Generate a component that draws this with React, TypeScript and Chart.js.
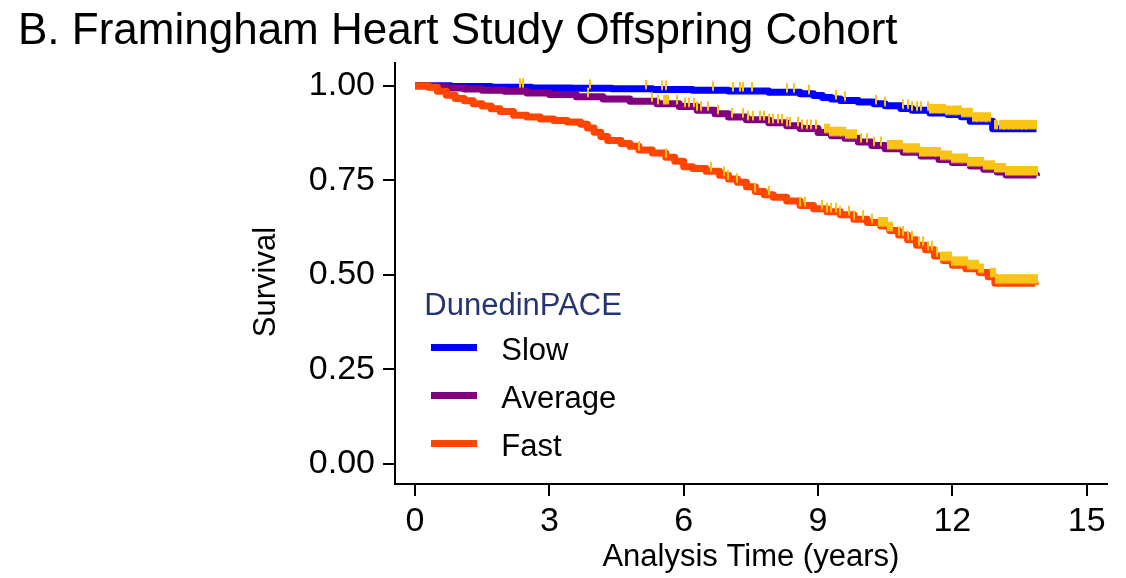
import React, { useEffect, useRef } from 'react';
import { Chart, registerables } from 'chart.js';

Chart.register(...registerables);

const FONT = "'Liberation Sans', Arial, Helvetica, sans-serif";

// ---- texts ----
const chartTitle = 'B. Framingham Heart Study Offspring Cohort';
const xAxisTitle = 'Analysis Time (years)';
const yAxisTitle = 'Survival';
const legendTitle = 'DunedinPACE';
const seriesNames = ['Slow', 'Average', 'Fast'];

// ---- ticks ----
const xTicks = [0, 3, 6, 9, 12, 15];
const yTicks = [0, 0.25, 0.5, 0.75, 1];

// ---- Kaplan-Meier step data (time in years, survival after the step) ----
const slowTime = [0, 0.8, 1.7, 2.6, 3.5, 4.4, 5.3, 6.2, 7.0, 7.9, 8.6, 8.9, 9.1, 9.3, 9.5, 9.9, 10.25, 10.5, 10.85, 11.1, 11.5, 11.9, 12.2, 12.4, 12.9, 13.88];
const slowSurv = [1.0, 0.998, 0.996, 0.994, 0.993, 0.992, 0.99, 0.988, 0.986, 0.983, 0.979, 0.974, 0.969, 0.965, 0.961, 0.957, 0.952, 0.947, 0.94, 0.935, 0.928, 0.924, 0.918, 0.906, 0.886, 0.886];

const averageTime = [0, 0.3, 0.7, 1.1, 1.5, 2.0, 2.5, 3.0, 3.6, 4.2, 4.8, 5.4, 5.9, 6.3, 6.7, 7.0, 7.4, 7.9, 8.3, 8.6, 9.0, 9.3, 9.6, 9.9, 10.2, 10.5, 10.9, 11.3, 11.7, 12.0, 12.4, 12.7, 13.0, 13.2, 13.88];
const averageSurv = [1.0, 0.997, 0.994, 0.991, 0.988, 0.985, 0.981, 0.977, 0.971, 0.965, 0.959, 0.952, 0.945, 0.935, 0.926, 0.917, 0.91, 0.902, 0.894, 0.887, 0.876, 0.868, 0.861, 0.851, 0.842, 0.833, 0.824, 0.814, 0.805, 0.797, 0.788, 0.779, 0.772, 0.764, 0.762];

const fastTime = [0, 0.3, 0.5, 0.7, 0.9, 1.1, 1.3, 1.5, 1.7, 1.9, 2.2, 2.5, 2.8, 3.1, 3.4, 3.7, 3.85, 4.0, 4.15, 4.3, 4.6, 4.8, 5.0, 5.3, 5.6, 5.8, 6.0, 6.2, 6.5, 6.8, 7.0, 7.2, 7.4, 7.6, 7.8, 8.0, 8.3, 8.6, 8.9, 9.2, 9.5, 9.8, 10.1, 10.4, 10.6, 10.8, 11.0, 11.2, 11.4, 11.6, 11.8, 12.0, 12.3, 12.6, 12.8, 12.95, 13.85];
const fastSurv = [1.0, 0.996, 0.985, 0.975, 0.966, 0.96, 0.952, 0.946, 0.939, 0.932, 0.922, 0.917, 0.912, 0.908, 0.904, 0.898, 0.888, 0.877, 0.866, 0.855, 0.847, 0.84, 0.83, 0.822, 0.811, 0.8, 0.786, 0.781, 0.774, 0.763, 0.753, 0.745, 0.733, 0.72, 0.712, 0.705, 0.695, 0.683, 0.675, 0.667, 0.659, 0.647, 0.638, 0.629, 0.617, 0.605, 0.593, 0.578, 0.566, 0.55, 0.538, 0.525, 0.516, 0.506, 0.495, 0.478, 0.474];

// ---- censoring times (isolated marks and dense runs) ----
const slowCensor = [2.35, 2.42, 3.9, 5.15, 5.52, 5.6, 6.65, 7.1, 7.25, 7.33, 7.53, 8.3, 8.47, 8.8, 9.4, 9.6, 10.3, 10.5, 10.9, 11.0, 11.1, 11.2, 11.3, 11.45, 12.95, 13.0];
const slowCensorRun = [11.55, 11.67, 11.79, 11.91, 12.03, 12.15, 12.27, 12.39, 12.5, 12.6, 12.7, 12.8, 13.1, 13.2, 13.3, 13.4, 13.5, 13.6, 13.7, 13.82];

const averageCensor = [3.87, 5.3, 5.42, 5.55, 5.6, 5.65, 5.86, 6.02, 6.12, 6.22, 6.3, 6.38, 6.55, 6.77, 7.07, 7.33, 7.44, 7.55, 7.7, 7.8, 7.9, 8.0, 8.1, 8.2, 8.3, 8.37, 8.55, 8.65, 8.75, 8.85, 8.95, 9.95, 10.1, 10.25, 10.4];
const averageCensorRun = [9.2, 9.32, 9.44, 9.56, 9.68, 9.8, 10.6, 10.72, 10.84, 10.96, 11.08, 11.2, 11.32, 11.44, 11.56, 11.68, 11.8, 11.92, 12.04, 12.16, 12.28, 12.4, 12.52, 12.64, 12.76, 12.88, 13.0, 13.12, 13.24, 13.36, 13.48, 13.6, 13.72, 13.84];

const fastCensor = [5.0, 5.6, 6.6, 6.9, 7.0, 7.2, 7.6, 7.9, 8.6, 8.7, 9.1, 9.2, 9.3, 9.4, 9.5, 9.7, 9.8, 10.0, 10.2, 10.8, 10.9, 11.0, 11.1, 11.25, 11.35, 11.45, 11.55, 11.65];
const fastCensorRun = [10.4, 10.5, 10.6, 11.8, 11.92, 12.04, 12.16, 12.28, 12.4, 12.52, 12.64, 12.9, 13.02, 13.14, 13.26, 13.38, 13.5, 13.62, 13.74, 13.84];

// ---- styles ----
const seriesColors = ['#0000ff', '#800080', '#ff4500'];
const censorColor = '#f9c414';
const legendTitleColor = '#263470';

function survivalAt(times: number[], surv: number[], t: number): number {
  let v = surv[0];
  for (let i = 0; i < times.length; i++) {
    if (times[i] <= t) v = surv[i];
    else break;
  }
  return v;
}

export default function App() {
  const ref = useRef<HTMLCanvasElement>(null);

  useEffect(() => {
    const canvas = ref.current;
    if (!canvas) return;

    const makeTick = (w: number) => {
      const c = document.createElement('canvas');
      c.width = w;
      c.height = 20;
      const g = c.getContext('2d')!;
      g.fillStyle = censorColor;
      g.fillRect(0, 1, w, 9.5);
      return c;
    };
    const thinTick = makeTick(2);
    const wideTick = makeTick(6);

    const series = [
      { name: seriesNames[0], t: slowTime, s: slowSurv, c: slowCensor, run: slowCensorRun, color: seriesColors[0], order: 3 },
      { name: seriesNames[1], t: averageTime, s: averageSurv, c: averageCensor, run: averageCensorRun, color: seriesColors[1], order: 2 },
      { name: seriesNames[2], t: fastTime, s: fastSurv, c: fastCensor, run: fastCensorRun, color: seriesColors[2], order: 1 },
    ];

    const datasets: any[] = [];
    series.forEach((se) => {
      datasets.push({
        type: 'line',
        label: se.name,
        data: se.t.map((x, i) => ({ x, y: se.s[i] })),
        borderColor: se.color,
        backgroundColor: se.color,
        borderWidth: 7,
        borderJoinStyle: 'round',
        pointRadius: 0,
        stepped: 'before',
        fill: false,
        order: se.order,
      });
      datasets.push({
        type: 'line',
        label: se.name + ' censored',
        data: se.c.map((x) => ({ x, y: survivalAt(se.t, se.s, x) })),
        showLine: false,
        pointStyle: thinTick,
        pointRadius: 3,
        order: 0,
      });
      datasets.push({
        type: 'line',
        label: se.name + ' censored run',
        data: se.run.map((x) => ({ x, y: survivalAt(se.t, se.s, x) })),
        showLine: false,
        pointStyle: wideTick,
        pointRadius: 3,
        order: 0,
      });
    });

    const tickFont = { family: FONT, size: 34 };
    const titleFont = { family: FONT, size: 31 };

    const chart = new Chart(canvas, {
      type: 'line',
      data: { datasets },
      options: {
        responsive: false,
        animation: false,
        events: [],
        layout: { padding: { left: 18, right: 19.3, top: 0, bottom: 0 } },
        plugins: {
          legend: { display: false },
          tooltip: { enabled: false },
          title: {
            display: true,
            text: chartTitle,
            align: 'start',
            color: '#000',
            font: { family: FONT, size: 44, weight: 'normal' },
            padding: { top: 5.05, bottom: 5.15 },
          },
        },
        scales: {
          x: {
            type: 'linear',
            min: -0.447,
            max: 15.447,
            afterBuildTicks: (s: any) => {
              s.ticks = xTicks.map((v) => ({ value: v }));
            },
            afterFit: (s: any) => {
              s.height = 94;
            },
            ticks: {
              font: tickFont,
              color: '#000',
              padding: 5,
              autoSkip: false,
              maxRotation: 0,
              callback: (v: any) => String(v),
            },
            grid: { drawOnChartArea: false, drawTicks: true, tickLength: 12, color: '#000', lineWidth: 2 },
            border: { display: true, color: '#000', width: 2 },
            title: {
              display: true,
              text: xAxisTitle,
              color: '#000',
              font: titleFont,
              padding: { top: 0, bottom: 2.14 },
            },
          },
          y: {
            type: 'linear',
            min: -0.053,
            max: 1.06,
            afterBuildTicks: (s: any) => {
              s.ticks = yTicks.map((v) => ({ value: v }));
            },
            afterFit: (s: any) => {
              s.width = 377;
            },
            ticks: {
              font: tickFont,
              color: '#000',
              padding: 8,
              autoSkip: false,
              callback: (v: any) => Number(v).toFixed(2),
            },
            grid: { drawOnChartArea: false, drawTicks: true, tickLength: 12, color: '#000', lineWidth: 2 },
            border: { display: true, color: '#000', width: 2 },
            title: {
              display: true,
              text: yAxisTitle + '  ',
              color: '#000',
              font: titleFont,
              padding: { top: 229.4, bottom: 0 },
            },
          },
        },
      } as any,
    });

    return () => {
      chart.destroy();
    };
  }, []);

  const legendText: React.CSSProperties = {
    position: 'absolute',
    fontFamily: FONT,
    fontSize: 31,
    lineHeight: '31px',
    whiteSpace: 'nowrap',
    color: '#000',
  };

  return (
    <div style={{ position: 'fixed', left: 0, top: 0, width: 1126, height: 578, background: '#fff', overflow: 'hidden' }}>
      <canvas ref={ref} width={1126} height={578} style={{ display: 'block', width: 1126, height: 578 }} />
      <div style={{ ...legendText, left: 424.3, top: 288.8, color: legendTitleColor }}>{legendTitle}</div>
      {seriesNames.map((name, i) => (
        <React.Fragment key={name}>
          <div
            style={{
              position: 'absolute',
              left: 430.7,
              top: 347.7 + 48 * i - 3.5,
              width: 46.3,
              height: 7,
              background: seriesColors[i],
            }}
          />
          <div style={{ ...legendText, left: 501.3, top: 333.8 + 48 * i }}>{name}</div>
        </React.Fragment>
      ))}
    </div>
  );
}
